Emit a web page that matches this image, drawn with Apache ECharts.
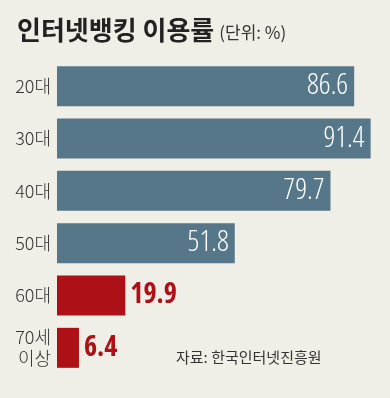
<!DOCTYPE html>
<html><head><meta charset="utf-8">
<script src="https://cdn.jsdelivr.net/npm/echarts@6/dist/echarts.min.js"></script>
<style>html,body{margin:0;padding:0;background:#f0efe7;}#c{width:390px;height:398px;}</style>
</head><body><div id="c"></div>
<script>
const categories = ['20대', '30대', '40대', '50대', '60대', '70세\n이상'];
const values = [86.6, 91.4, 79.7, 51.8, 19.9, 6.4];
const highlight = [false, false, false, false, true, true];

const BLUE = '#567789', RED = '#ad1116';
const NUMFONT = '"Open Sans", Roboto, sans-serif';
const chart = echarts.init(document.getElementById('c'));
chart.setOption({
  backgroundColor: '#f0efe7',
  animation: false,
  title: {
    left: 12, top: 12,
    text: '{a|인터넷뱅킹 이용률} {b|(단위: %)}',
    textStyle: {
      rich: {
        a: {fontFamily: 'Noto Sans CJK KR', fontWeight: 'bold', fontSize: 26, color: '#222'},
        b: {fontFamily: 'Noto Sans CJK KR', fontWeight: 'normal', fontSize: 17, color: '#333', padding: [6, 0, 0, 0]}
      }
    }
  },
  graphic: [{
    type: 'text', left: 176, top: 350,
    style: {text: '자료: 한국인터넷진흥원', font: '15px "Noto Sans CJK KR"', fill: '#333'}
  }],
  grid: {left: 57, top: 60, width: 326, height: 314},
  xAxis: {type: 'value', min: 0, max: 95, show: false},
  yAxis: {
    type: 'category', data: categories, inverse: true,
    axisLine: {show: false}, axisTick: {show: false},
    axisLabel: {margin: 6, fontFamily: 'Noto Sans CJK KR', fontSize: 18, color: '#333', lineHeight: 21, fontWeight: 300}
  },
  series: [{
    type: 'bar', barWidth: 40,
    data: values.map((v, i) => ({
      value: v,
      itemStyle: {color: highlight[i] ? RED : BLUE},
      label: highlight[i]
        ? {show: true, position: 'right', distance: 5, color: RED, fontWeight: 'bold semi-condensed', fontSize: 28, fontFamily: NUMFONT}
        : {show: true, position: 'insideRight', distance: 6, color: '#fff', fontWeight: '300 semi-condensed', fontSize: 29, fontFamily: NUMFONT}
    }))
  }]
});
</script></body></html>
